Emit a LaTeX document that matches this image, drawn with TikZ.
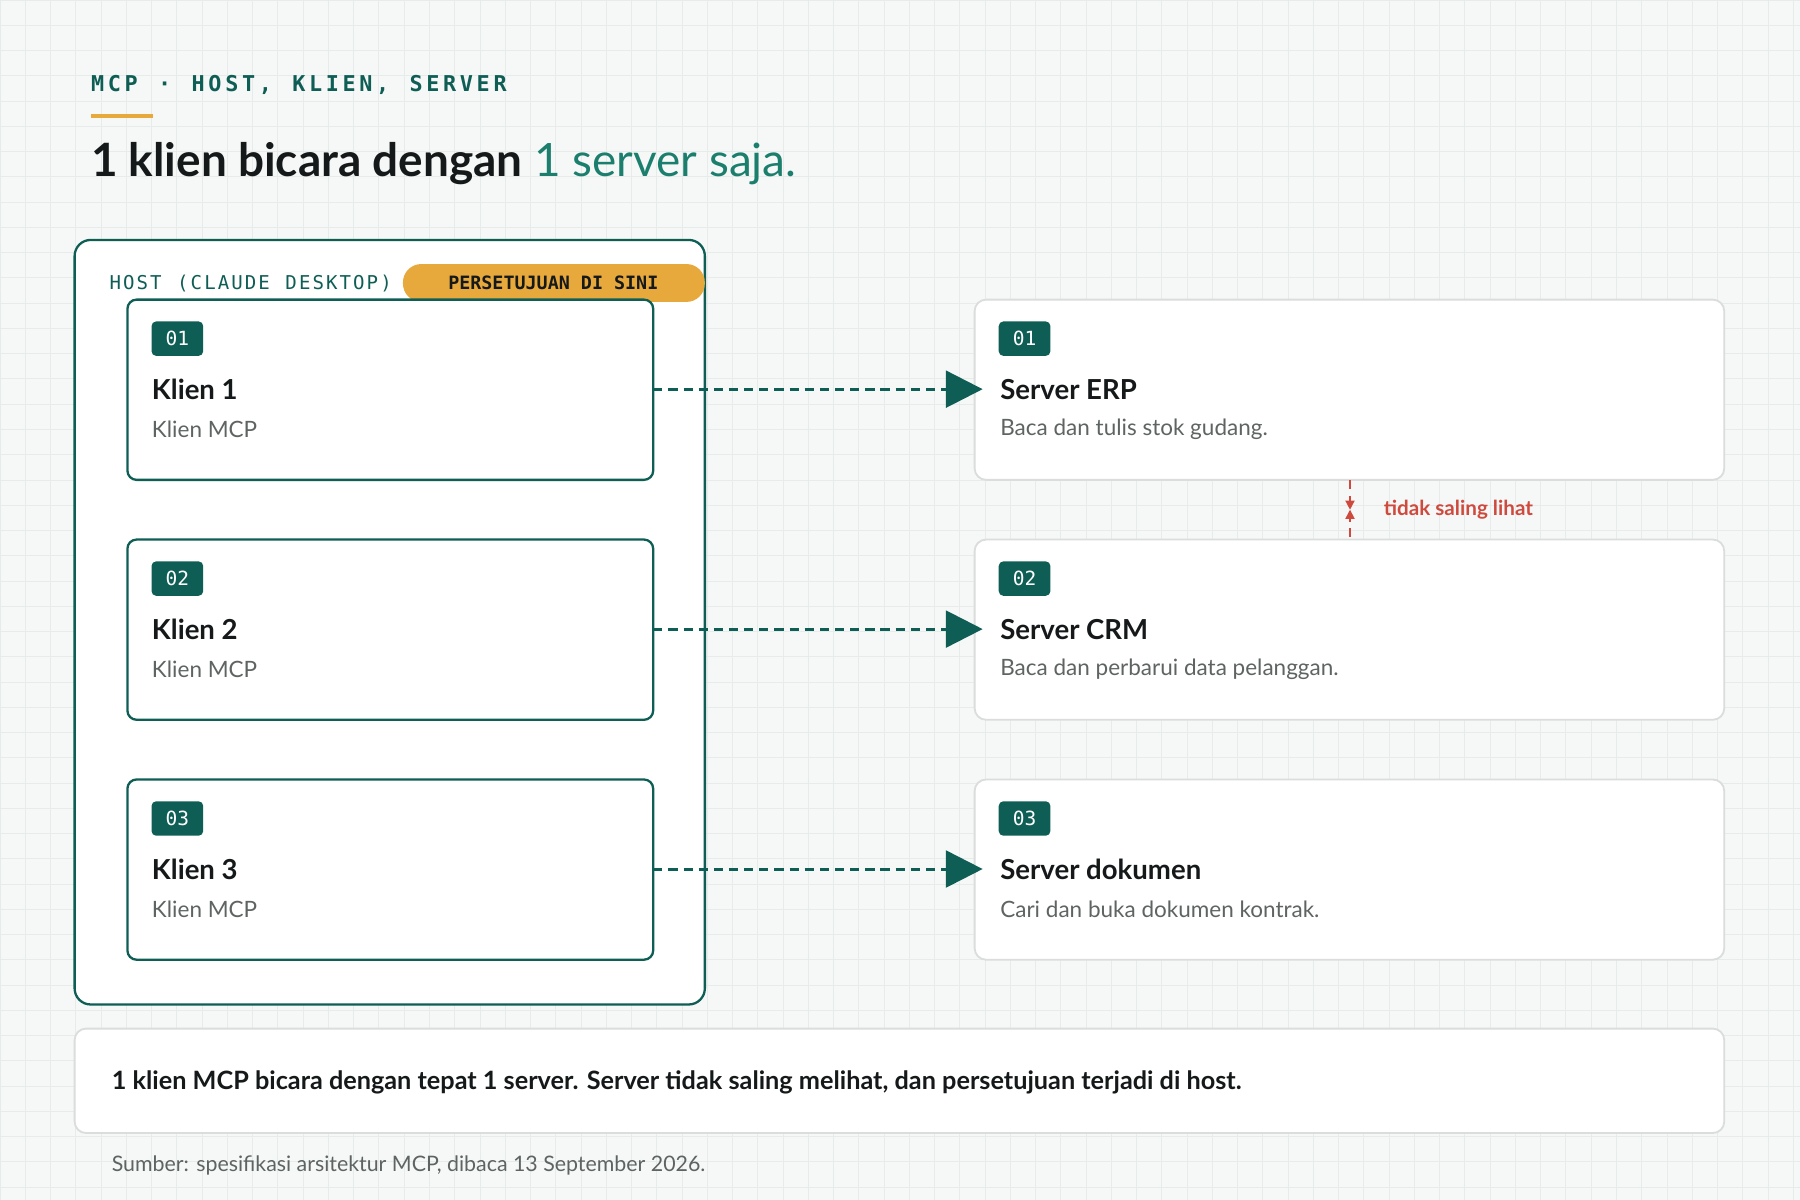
\documentclass[tikz,border=0pt]{standalone}
\usepackage{fontspec}
\setmainfont{Lato}
\setmonofont{DejaVu Sans Mono}
\usetikzlibrary{positioning}
\usetikzlibrary{arrows.meta}
\definecolor{teal}{HTML}{0F5E55}
\definecolor{tealtext}{HTML}{1C7F6E}
\definecolor{amber}{HTML}{E8A93C}
\definecolor{bg}{HTML}{F6F8F7}
\definecolor{gridc}{HTML}{E7ECEA}
\definecolor{greyline}{HTML}{DADDDC}
\definecolor{greytext}{HTML}{5E6462}
\definecolor{alert}{HTML}{CF4A3E}
\definecolor{ink}{HTML}{15191A}
\newcommand{\spaced}[1]{\def\sp{\kern0.9pt}#1}
\tikzset{
    klien/.style = {draw=teal,line width=1pt,rounded corners=4pt,fill=white},
    server/.style = {draw=greyline,line width=0.8pt,rounded corners=5pt,fill=white},
    badge/.style = {fill=teal,rounded corners=2pt,text=white,font=\ttfamily\fontsize{8.5}{10}\selectfont,minimum width=22.5pt,minimum height=15pt,inner sep=0pt},
    boxtitle/.style = {anchor=west,inner sep=0pt,font=\bfseries\fontsize{12}{14}\selectfont,text=ink},
    boxsub/.style = {anchor=west,inner sep=0pt,font=\fontsize{9.8}{12}\selectfont,text=greytext},
    link/.style = {draw=teal,line width=1.3pt,dash pattern=on 4pt off 2.6pt,-{Triangle[length=16pt,width=16pt]}}}
\begin{document}
\begin{tikzpicture}[x=0.5pt,y=-0.5pt]
  \useasboundingbox (0,0) rectangle (1568,1045);
  \fill[bg] (0,0) rectangle (1568,1045);
  \foreach \g in {0,22,...,1568} \draw[gridc,line width=0.3pt] (\g,0) -- (\g,1045);
  \foreach \g in {0,22,...,1045} \draw[gridc,line width=0.3pt] (0,\g) -- (1568,\g);
  % header
  \node[anchor=west,inner sep=0pt,text=teal,font=\ttfamily\bfseries\fontsize{9.5}{11}\selectfont] (kicker) at (79,74)
    {M\,C\,P\, \,·\, \,H\,O\,S\,T\,,\, \,K\,L\,I\,E\,N\,,\, \,S\,E\,R\,V\,E\,R};
  \draw[amber,line width=1.5pt] (79,101) -- (133,101);
  \node[anchor=base west,inner sep=0pt,font=\fontsize{20}{24}\selectfont] (title) at (79,154)
    {\textbf{\color{ink}1 klien bicara dengan} {\color{tealtext}1 server saja.}};
  % host
  \draw[klien,rounded corners=7pt] (65,209) rectangle (614,875);
  \node[anchor=west,inner sep=0pt,text=teal,font=\ttfamily\fontsize{8.3}{10}\selectfont] (hostlabel) at (95,247)
    {\spaced{H\sp O\sp S\sp T\sp{} \sp(\sp C\sp L\sp A\sp U\sp D\sp E\sp{} \sp D\sp E\sp S\sp K\sp T\sp O\sp P\sp)}};
  \fill[amber,rounded corners=8pt] (351,230) rectangle (614,263);
  \node[inner sep=0pt,text=ink,font=\ttfamily\bfseries\fontsize{8}{10}\selectfont] (consent) at (482,246.5) {PERSETUJUAN DI SINI};
  % clients and servers
  \foreach \i/\y/\srv/\desc in {1/261/Server ERP/Baca dan tulis stok gudang.,
                                 2/470/Server CRM/Baca dan perbarui data pelanggan.,
                                 3/679/Server dokumen/Cari dan buka dokumen kontrak.} {
    \draw[klien] (111,\y) rectangle (569,\y+157);
    \node[badge] (kb\i) at (154.5,\y+34) {0\i};
    \node[boxtitle] (kt\i) at (132,\y+78) {Klien \i};
    \node[boxsub] (ks\i) at (132,\y+113) {Klien MCP};
    \coordinate (k\i) at (569,\y+78);
    \draw[server] (849,\y) rectangle (1502,\y+157);
    \node[badge] (sb\i) at (892.5,\y+34) {0\i};
    \node[boxtitle] (st\i) at (871,\y+78) {\srv};
    \node[boxsub] (ss\i) at (871,\y+113) {\desc};
    \coordinate (s\i) at (856,\y+78);
    \draw[link] (k\i) -- (s\i);
  }
  % isolation marker
  \coordinate (isoA) at (1176,418);
  \coordinate (isoB) at (1176,470);
  \draw[alert,line width=1.2pt,dash pattern=on 4pt off 3pt] (isoA) -- (isoB);
  \draw[alert,line width=0.6pt,-{Triangle[length=4pt,width=4pt]}] (1176,433) -- (1176,444);
  \draw[alert,line width=0.6pt,-{Triangle[length=4pt,width=4pt]}] (1176,455) -- (1176,444);
  \node[anchor=west,inner sep=0pt,text=alert,font=\bfseries\fontsize{9}{11}\selectfont] (isolabel) at (1205,444) {tidak saling lihat};
  % note
  \draw[server] (65,896) rectangle (1502,987);
  \node[anchor=west,inner sep=0pt,text=ink,font=\bfseries\fontsize{11}{13}\selectfont] (note) at (97,943)
    {1 klien MCP bicara dengan tepat 1 server. Server tidak saling melihat, dan persetujuan terjadi di host.};
  \node[anchor=west,inner sep=0pt,text=greytext,font=\fontsize{9.3}{11}\selectfont] (source) at (97,1015)
    {Sumber: spesifikasi arsitektur MCP, dibaca 13 September 2026.};
\end{tikzpicture}
\end{document}
